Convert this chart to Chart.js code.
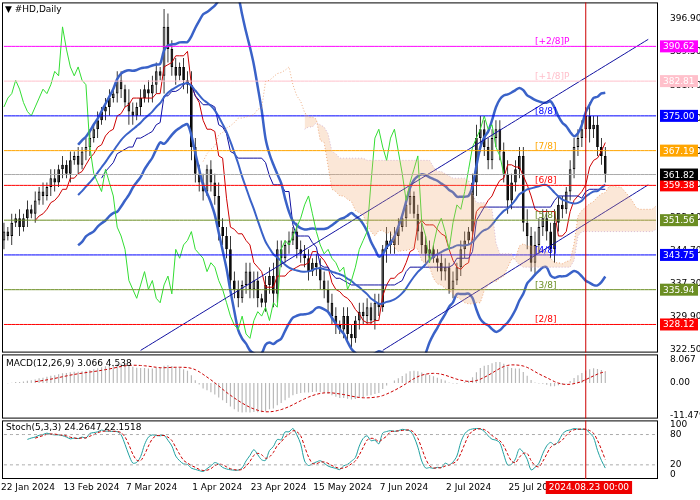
<!DOCTYPE html>
<html><head><meta charset="utf-8">
<script src="https://cdn.jsdelivr.net/npm/chart.js@4.4.1/dist/chart.umd.min.js"></script>
<style>body{margin:0;background:#fff;width:700px;height:500px;overflow:hidden;font-family:Tahoma,"DejaVu Sans",sans-serif}
div.p{position:absolute;left:0;width:700px}</style></head><body>
<div class="p" style="top:-7px;height:369px"><canvas id="m" width="700" height="369"></canvas></div>
<div class="p" style="top:345px;height:83px"><canvas id="d" width="700" height="83"></canvas></div>
<div class="p" style="top:411px;height:86px"><canvas id="s" width="700" height="86"></canvas></div>
<script>
const closes=[349,348,351,352,350, 352,354,353,356,358, 357,359,361,360,363, 364,362,365,366,364, 367,368,370,372, 374,376,377,379,380,
383,381,378,376,375, 377,379,381,380,382, 385,384,395,390,386, 384,386,383,382, 368,362,360,358,363, 360,357,350,348,345,
338,336,334,337,340, 336,338,334,333,337, 339,335,345,343,346, 347,349,345,344,343, 340,342,341,338,336, 333,330,328,327,330,
326,325,329,331, 330,332,329,333,332, 345,347,346,348,350, 352,355,357,353, 349,346,344,345,343, 342,340,341,336,
338,341,345,347,349, 360,370,372,368,365, 370,372,367,362,356, 360,363,366,351,348, 342,346,350,352,349, 345,351,355,354,358,
363,368,370,372,375, 372,373,368,366,362];
const wicks=[2,1,2,1,2, 1,2,1,2,1, 2,1,2,2,1, 2,1,2,1,2, 1,2,2,1, 2,1,2,2,1, 2,2,1,3,2, 1,2,1,2,2, 2,1,4,3,2, 2,1,2,2, 3,2,2,2,1,
2,2,3,2,2, 3,2,2,1,2, 2,2,2,1,2, 2,3,2,2,1, 2,1,2,2,2, 2,1,2,2,2, 2,2,2,1,2, 2,2,1,2,2, 2,1,2,2,1, 3,2,2,2,1, 2,2,1,2,
2,2,2,1,2, 2,2,1,2, 1,2,2,1,2, 3,3,2,2,2, 2,2,2,3,2, 2,2,2,3,2, 3,2,2,2,2, 3,2,2,1,2, 2,2,2,2,3, 2,2,2,2,1];
const firstOpen=347;
const dateTicks=[[0,'22 Jan 2024'],[16,'13 Feb 2024'],[32,'7 Mar 2024'],[49,'1 Apr 2024'],[64,'23 Apr 2024'],[80,'15 May 2024'],[97,'7 Jun 2024'],[114,'2 Jul 2024'],[130,'25 Jul 2024']];
const markerIdx=149, markerLabel='2024.08.23 00:00';
const levels=[[390.62,'#ff00ff','[+2/8]P','#fff'],[382.81,'#ffc0cb','[+1/8]P','#fff'],[375.00,'#0000ff','[8/8]','#fff'],[367.19,'#ffa500','[7/8]','#fff'],
[359.38,'#ff0000','[6/8]','#fff'],[351.56,'#6b8e23','[5/8]','#fff'],[343.75,'#0000ff','[4/8]','#fff'],[335.94,'#6b8e23','[3/8]','#fff'],[328.12,'#ff0000','[2/8]','#fff']];
const lastPrice=361.82;
const chUpper=[[35,322.3],[165,392.2]], chLower=[[97,322.3],[165,359.5]];

const N=closes.length, L=168;
const labels=Array.from({length:L},(_,i)=>i);
const opens=closes.map((c,i)=>i?closes[i-1]:firstOpen);
const highs=closes.map((c,i)=>Math.max(c,opens[i])+wicks[i]);
const lows=closes.map((c,i)=>Math.min(c,opens[i])-wicks[i]);
const pad=a=>{const r=a.slice();while(r.length<L)r.push(null);return r.slice(0,L)};
const sma=(a,p)=>a.map((_,i)=>i<p-1?null:a.slice(i-p+1,i+1).reduce((s,v)=>s+v,0)/p);
const mid=(p,i)=>i<p-1?null:(Math.max(...highs.slice(i-p+1,i+1))+Math.min(...lows.slice(i-p+1,i+1)))/2;
const bbm=sma(closes,20);
const sd=closes.map((_,i)=>{if(i<19)return null;const s=closes.slice(i-19,i+1);const m=bbm[i];return Math.sqrt(s.reduce((a,v)=>a+(v-m)**2,0)/20)});
const bbu=bbm.map((m,i)=>m==null?null:m+2*sd[i]), bbl=bbm.map((m,i)=>m==null?null:m-2*sd[i]);
const tenkan=closes.map((_,i)=>mid(9,i)), kijun=closes.map((_,i)=>mid(26,i));
const spanA=new Array(L).fill(null), spanB=new Array(L).fill(null);
for(let i=0;i<N;i++){if(i+26<L){spanA[i+26]=tenkan[i]!=null&&kijun[i]!=null?(tenkan[i]+kijun[i])/2:null;spanB[i+26]=mid(52,i)}}
const chikou=new Array(L).fill(null);for(let i=26;i<N;i++)chikou[i-26]=closes[i];
const ema=(a,p)=>{const k=2/(p+1);let e=a[0];return a.map(v=>e=v*k+e*(1-k))};
const e12=ema(closes,12),e26=ema(closes,26);const macd=closes.map((_,i)=>e12[i]-e26[i]);
const sig=sma(macd,9);
const kr=closes.map((c,i)=>{if(i<4)return null;const h=Math.max(...highs.slice(i-4,i+1)),l=Math.min(...lows.slice(i-4,i+1));return [c-l,h-l]});
const K=closes.map((_,i)=>{if(i<6)return null;let a=0,b=0;for(let j=i-2;j<=i;j++){a+=kr[j][0];b+=kr[j][1]}return b?100*a/b:50});
const D=K.map((_,i)=>i<8?null:(K[i]+K[i-1]+K[i-2])/3);
const lineDS=(data,color,w,extra)=>Object.assign({type:'line',data:pad(data),borderColor:color,borderWidth:w,pointRadius:0,fill:false,tension:0.3,spanGaps:false},extra||{});
const xScale={type:'category',offset:true,display:false,grid:{display:false}};
const yFit=s=>{s.width=42};
const frame={id:'frame',afterDraw(c){const a=c.chartArea,x=c.ctx;x.save();x.strokeStyle='#000';x.lineWidth=1;x.strokeRect(a.left+0.5,a.top+0.5,a.width-1,a.height-1);
 const px=c.scales.x.getPixelForValue(markerIdx);x.strokeStyle='#cc0000';x.beginPath();x.moveTo(px,a.top);x.lineTo(px,a.bottom);x.stroke();x.restore()}};
Chart.defaults.font.family='Tahoma, "DejaVu Sans", sans-serif';Chart.defaults.font.size=9;Chart.defaults.color='#000';
const base={responsive:false,animation:false,plugins:{legend:{display:false},tooltip:{enabled:false}},layout:{padding:{left:2,right:0,top:0,bottom:0}}};

const hl=levels.map(l=>lineDS(new Array(L).fill(l[0]),l[1],1,{tension:0}));
const line2=(pts,color)=>{const d=new Array(L).fill(null);const [a,b]=pts;for(let i=a[0];i<=b[0]&&i<L;i++)d[i]=a[1]+(b[1]-a[1])*(i-a[0])/(b[0]-a[0]);return lineDS(d,color,1,{tension:0})};
new Chart(document.getElementById('m'),{type:'bar',data:{labels,datasets:[
 lineDS(spanA,'rgba(230,140,80,0.7)',1,{borderDash:[1,2],fill:'+1',backgroundColor:'rgba(240,170,110,0.28)',tension:0}),
 lineDS(spanB,'rgba(200,170,220,0.8)',1,{borderDash:[1,2],tension:0}),
 ...hl,
 lineDS(new Array(L).fill(lastPrice),'#aaaaaa',1,{tension:0}),
 line2(chUpper,'#1010a0'),line2(chLower,'#1010a0'),
 lineDS(chikou,'#33dd33',1,{tension:0}),
 lineDS(bbu,'#3a62c8',2.5),lineDS(bbl,'#3a62c8',2.5),lineDS(bbm,'#3a62c8',2),
 lineDS(kijun,'#1010a0',1,{tension:0}),lineDS(tenkan,'#cc0000',1,{tension:0}),
 {type:'bar',data:pad(closes.map((c,i)=>[lows[i],highs[i]])),backgroundColor:'#000',barPercentage:0.2,categoryPercentage:1,grouped:false},
 {type:'bar',data:pad(closes.map((c,i)=>[opens[i],c===opens[i]?c+0.2:c])),backgroundColor:pad(closes.map((c,i)=>c>=opens[i]?'#fff':'#000')),borderColor:'#000',borderWidth:1,borderSkipped:false,barPercentage:0.7,categoryPercentage:1,grouped:false}
]},options:Object.assign({},base,{layout:{padding:{left:2,top:3,bottom:2}},scales:{x:xScale,y:{position:'right',min:321.8,max:400.5,afterFit:yFit,grid:{display:false},border:{display:false},
 afterBuildTicks(s){s.ticks=[322.5,329.9,337.3,344.7,352.1,359.5,366.9,374.3,381.7,389.5,396.9].map(v=>({value:v}))},ticks:{callback:v=>v.toFixed(2),padding:4}}}}),
 plugins:[frame,{id:'lab',afterDraw(c){const x=c.ctx,a=c.chartArea,y=c.scales.y;x.save();x.font='9px Tahoma, "DejaVu Sans", sans-serif';
  x.fillStyle='#000';x.fillText('▼ #HD,Daily',a.left+3,a.top+10);
  const bx=c.scales.x.getPixelForValue(136);
  levels.forEach(l=>{x.fillStyle=l[1];x.fillText(l[2],bx,y.getPixelForValue(l[0])-2)});
  const all=levels.map(l=>[l[0],l[1],l[3]]).concat([[lastPrice,'#000','#fff']]);
  all.forEach(l=>{const py=y.getPixelForValue(l[0]);x.fillStyle=l[1];x.fillRect(a.right+2,py-6,38,12);x.fillStyle=l[2];x.fillText(l[0].toFixed(2),a.right+5,py+3)});
  x.restore()}}]});

new Chart(document.getElementById('d'),{type:'bar',data:{labels,datasets:[
 lineDS(sig,'#cc0000',1,{borderDash:[3,2]}),
 {type:'bar',data:pad(macd),backgroundColor:'#b8b8b8',barPercentage:0.3,categoryPercentage:1}
]},options:Object.assign({},base,{scales:{x:xScale,y:{position:'right',min:-12.5,max:10,afterFit:yFit,grid:{display:false},border:{display:false},
 afterBuildTicks(s){s.ticks=[-11.479,0,8.067].map(v=>({value:v}))},ticks:{callback:v=>v===0?'0.00':v.toString(),padding:4}}}}),
 plugins:[frame,{id:'t',afterDraw(c){const x=c.ctx;x.save();x.fillStyle='#000';x.font='9px Tahoma, "DejaVu Sans", sans-serif';
  x.fillText('MACD(12,26,9) 3.066 4.538',c.chartArea.left+4,c.chartArea.top+12);x.restore()}}]});

new Chart(document.getElementById('s'),{type:'line',data:{labels,datasets:[
 lineDS(new Array(L).fill(80),'#aaaaaa',1,{borderDash:[3,3],tension:0}),lineDS(new Array(L).fill(20),'#aaaaaa',1,{borderDash:[3,3],tension:0}),
 lineDS(D,'#cc0000',1,{borderDash:[3,2]}),lineDS(K,'#20a0a0',1)
]},options:Object.assign({},base,{layout:{padding:{left:2,bottom:18}},scales:{x:xScale,y:{position:'right',min:-8,max:108,afterFit:yFit,grid:{display:false},border:{display:false},
 afterBuildTicks(s){s.ticks=[0,20,80,100].map(v=>({value:v}))},ticks:{padding:4}}}}),
 plugins:[frame,{id:'t',afterDraw(c){const x=c.ctx,a=c.chartArea,sx=c.scales.x;x.save();x.fillStyle='#000';x.font='9px Tahoma, "DejaVu Sans", sans-serif';
  x.fillText('Stoch(5,3,3) 24.2647 22.1518',a.left+4,a.top+10);
  dateTicks.forEach(([i,t])=>{const px=sx.getPixelForValue(i);x.fillText(t,px-3,a.bottom+11)});
  const px=sx.getPixelForValue(markerIdx);const w=x.measureText(markerLabel).width+6;x.fillStyle='#ee0000';x.fillRect(px-40,a.bottom+2,w,13);x.fillStyle='#fff';x.fillText(markerLabel,px-37,a.bottom+11);
  x.restore()}}]});
</script></body></html>
